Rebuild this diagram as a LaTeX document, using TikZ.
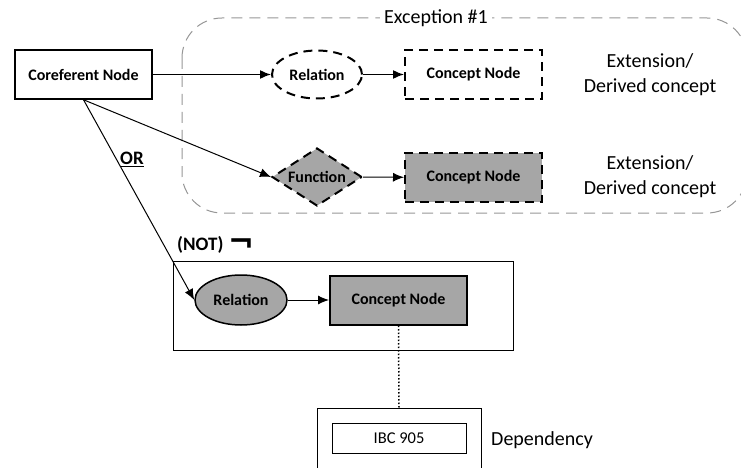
\documentclass[tikz,border=0pt]{standalone}
\usepackage{fontspec}
\setmainfont{Carlito}
\newfontfamily\symfont{DejaVu Sans}
\usetikzlibrary{arrows.meta,shapes.geometric}
\definecolor{fillgray}{RGB}{166,166,166}
\definecolor{regiongray}{RGB}{150,150,150}
\tikzset{
  lbl/.style={font=\bfseries\fontsize{16}{18}\selectfont},
  biglbl/.style={font=\bfseries\fontsize{19}{21}\selectfont},
  plain/.style={font=\fontsize{20}{25}\selectfont, align=center},
  solidbox/.style={lbl, draw, line width=1.5pt, minimum width=137pt, minimum height=49pt, inner sep=0pt},
  dashbox/.style={lbl, draw, line width=2pt, dash pattern=on 9pt off 6pt, minimum width=137pt, minimum height=49pt, inner sep=0pt},
  dashell/.style={lbl, draw, ellipse, line width=2pt, dash pattern=on 9pt off 6pt, minimum width=90pt, minimum height=48pt, inner sep=0pt},
  dashdia/.style={lbl, draw, diamond, aspect=1.55, line width=2pt, dash pattern=on 9pt off 6pt, fill=fillgray, minimum width=90pt, minimum height=58pt, inner sep=0pt},
  conn/.style={line width=1.5pt, -{Latex[length=11pt,width=9pt]}},
  thinconn/.style={line width=1pt, -{Latex[length=11pt,width=9pt]}},
}
\begin{document}
\begin{tikzpicture}[x=1pt,y=-1pt]
\useasboundingbox (0,0) rectangle (741,468);
\clip (0,0) rectangle (741,468);
% exception region
\draw[regiongray, line width=1pt, dash pattern=on 11pt off 7pt, rounded corners=40pt] (182,18) rectangle (747,213);
\node[plain, fill=white, inner xsep=4pt, inner ysep=1pt] (exc) at (436,18) {Exception \#1};
% top row
\node[solidbox] (coref) at (83.5,74.5) {Coreferent Node};
\node[dashell] (rel1) at (317,74.5) {Relation};
\node[dashbox] (cn1) at (473.5,74.5) {Concept Node};
\node[plain] (ext1) at (650,75) {Extension/\\Derived concept};
% second row
\node[dashdia] (func) at (317,177) {Function};
\node[dashbox, fill=fillgray] (cn2) at (473.5,177.5) {Concept Node};
\node[plain] (ext2) at (650,177) {Extension/\\Derived concept};
% negated context
\node[draw, line width=1pt, minimum width=340pt, minimum height=89pt, inner sep=0pt] (negbox) at (343,305.5) {};
\node[biglbl, anchor=west, inner sep=0pt] (nottxt) at (177,245) {(NOT)\hspace{5pt}\raisebox{-2pt}{\resizebox{26pt}{!}{\symfont\bfseries ¬}}};
\node[lbl, draw, ellipse, fill=fillgray, line width=1.5pt, minimum width=92pt, minimum height=50pt, inner sep=0pt] (rel2) at (241,300) {Relation};
\node[solidbox, fill=fillgray, line width=2pt] (cn3) at (398.5,300) {Concept Node};
% dependency
\node[draw, line width=1pt, minimum width=164pt, minimum height=70pt, inner sep=0pt] (depout) at (399,443) {};
\node[draw, line width=1pt, minimum width=134pt, minimum height=30pt, inner sep=0pt, font=\fontsize{16.5}{18}\selectfont] (ibc) at (399,438) {IBC 905};
\node[plain, anchor=west, inner sep=0pt] (dep) at (491,440) {Dependency};
% connectors
\draw[conn] (coref) -- (rel1);
\draw[conn] (rel1) -- (cn1);
\draw[thinconn] (coref.south) -- (func.west);
\draw[thinconn] (func) -- (cn2);
\draw[thinconn] (coref.south) -- node[biglbl, pos=0.3, right, inner sep=1pt, xshift=2pt] (or) {\underline{OR}} (rel2.west);
\draw[thinconn] (rel2) -- (cn3);
\draw[line width=1.5pt, dotted] (cn3.south) -- (depout.north);
\end{tikzpicture}
\end{document}
